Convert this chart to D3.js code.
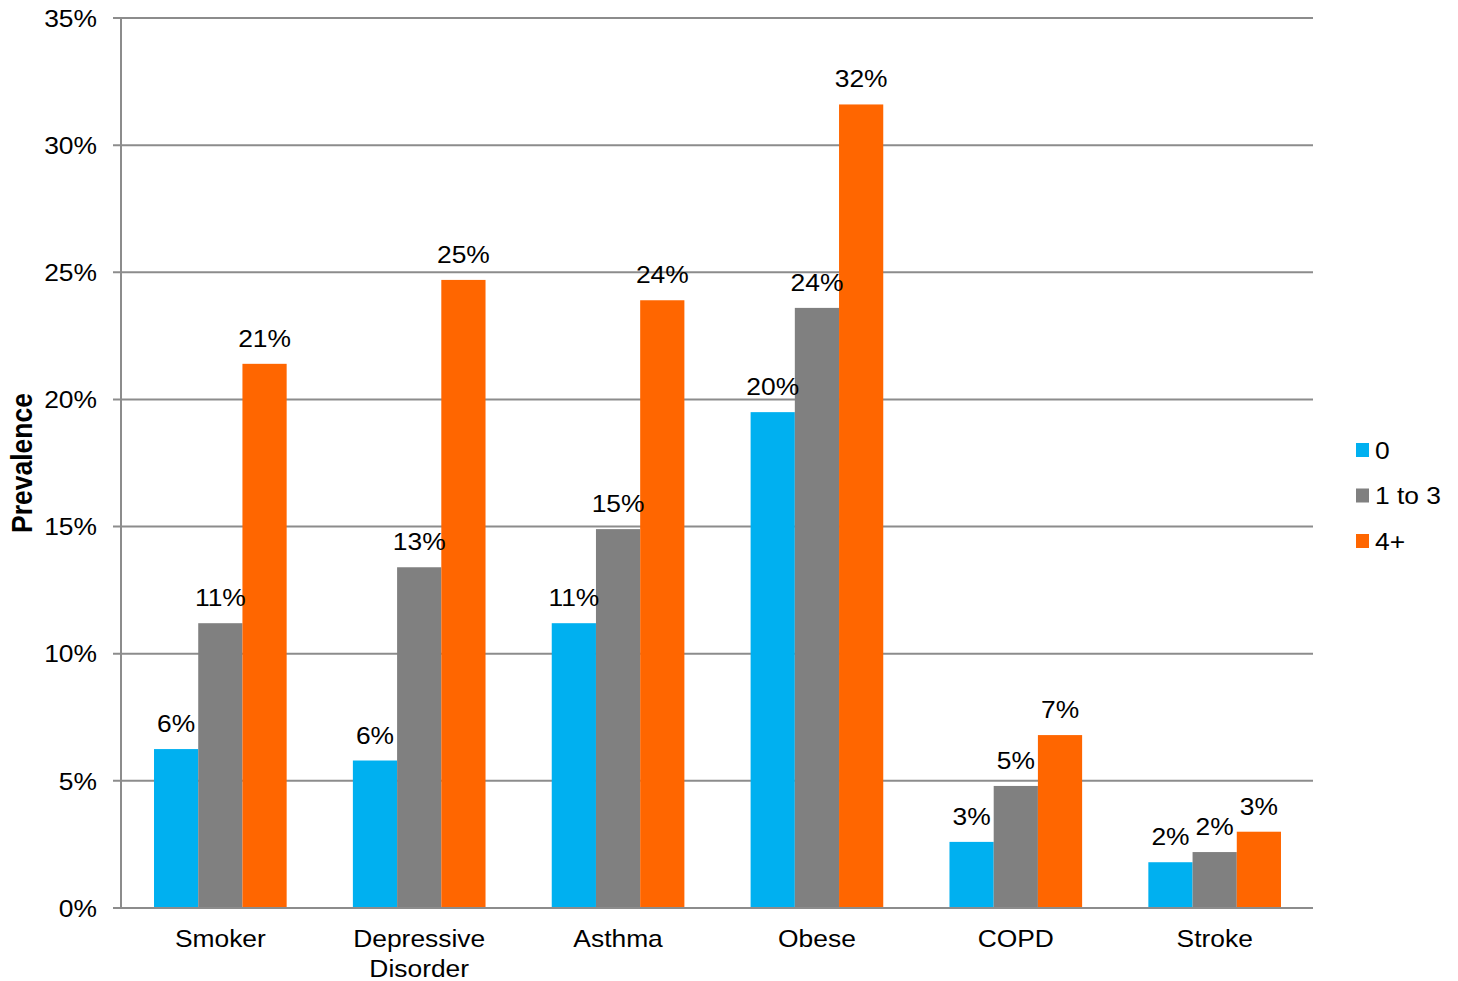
<!DOCTYPE html>
<html>
<head>
<meta charset="utf-8">
<script src="https://cdn.jsdelivr.net/npm/d3@7"></script>
<style>
  body { margin: 0; background: #fff; }
  text { font-family: "Liberation Sans", Arial, sans-serif; fill: #000; }
</style>
</head>
<body>
<div id="chart"></div>
<script>
// chart data
const categories = ["Smoker", "Depressive Disorder", "Asthma", "Obese", "COPD", "Stroke"];
const seriesNames = ["0", "1 to 3", "4+"];
const series0 = [6.25, 5.8, 11.2, 19.5, 2.6, 1.8];
const series1to3 = [11.2, 13.4, 14.9, 23.6, 4.8, 2.2];
const series4plus = [21.4, 24.7, 23.9, 31.6, 6.8, 3.0];
const yTicks = [0, 5, 10, 15, 20, 25, 30, 35];
const colors = ["#00B0F0", "#808080", "#FF6600"];

const width = 1458, height = 981;
const margin = { top: 18, right: 145, bottom: 73, left: 120 };
const fontSize = 24;
const stretch = 1.1; // the original text is a bit wider than tall

const svg = d3.select("#chart").append("svg")
    .attr("width", width)
    .attr("height", height);

// place a text at x,y with the horizontal stretch
function placeText(sel, fx, fy) {
    sel.attr("transform", (d, i) => `translate(${fx(d, i)},${fy(d, i)}) scale(${stretch},1)`);
}

const x = d3.scaleBand()
    .domain(categories)
    .range([margin.left + 1, width - margin.right + 1])
    .paddingInner(0.333)
    .paddingOuter(0.166);

const xSub = d3.scaleBand()
    .domain(seriesNames)
    .range([0, x.bandwidth()]);

const y = d3.scaleLinear()
    .domain([0, 35])
    .range([height - margin.bottom, margin.top]);

// gridlines
svg.append("g")
    .selectAll("line")
    .data(yTicks)
    .join("line")
    .attr("x1", margin.left - 7)
    .attr("x2", width - margin.right)
    .attr("y1", d => y(d))
    .attr("y2", d => y(d))
    .attr("stroke", "#8c8c8c")
    .attr("stroke-width", 2);

// y axis line
svg.append("line")
    .attr("x1", margin.left + 1).attr("x2", margin.left + 1)
    .attr("y1", y(35)).attr("y2", y(0))
    .attr("stroke", "#8c8c8c")
    .attr("stroke-width", 2);

// y tick labels
svg.append("g")
    .selectAll("text")
    .data(yTicks)
    .join("text")
    .call(placeText, () => margin.left - 23, d => y(d))
    .attr("dy", "0.36em")
    .attr("text-anchor", "end")
    .attr("font-size", fontSize)
    .text(d => d + "%");

// y title
svg.append("text")
    .attr("transform", `translate(32, ${(y(0) + y(35)) / 2}) scale(${stretch},1) rotate(-90)`)
    .attr("text-anchor", "middle")
    .attr("font-size", 26.5)
    .attr("font-weight", "bold")
    .text("Prevalence");

const allSeries = [series0, series1to3, series4plus];
const rows = categories.map((c, i) => ({
    cat: c,
    vals: seriesNames.map((s, j) => ({ key: s, value: allSeries[j][i], color: colors[j] }))
}));

const groups = svg.append("g")
    .selectAll("g")
    .data(rows)
    .join("g")
    .attr("transform", d => `translate(${x(d.cat)},0)`);

groups.selectAll("rect")
    .data(d => d.vals)
    .join("rect")
    .attr("x", d => xSub(d.key))
    .attr("width", xSub.bandwidth())
    .attr("y", d => y(d.value))
    .attr("height", d => y(0) - y(d.value))
    .attr("fill", d => d.color);

groups.selectAll("text.lbl")
    .data(d => d.vals)
    .join("text")
    .attr("class", "lbl")
    .call(placeText, d => xSub(d.key) + xSub.bandwidth() / 2, d => y(d.value) - 17)
    .attr("text-anchor", "middle")
    .attr("font-size", fontSize)
    .text(d => Math.round(d.value) + "%");

// redraw baseline on top of bars
svg.append("line")
    .attr("x1", margin.left - 7).attr("x2", width - margin.right)
    .attr("y1", y(0)).attr("y2", y(0))
    .attr("stroke", "#8c8c8c")
    .attr("stroke-width", 2);

// category labels
svg.append("g")
    .selectAll("text")
    .data(categories)
    .join("text")
    .call(placeText, d => x(d) + x.bandwidth() / 2, () => height - margin.bottom + 39)
    .attr("text-anchor", "middle")
    .attr("font-size", fontSize)
    .each(function(d) {
        const words = d === "Depressive Disorder" ? ["Depressive", "Disorder"] : [d];
        d3.select(this).selectAll("tspan")
            .data(words)
            .join("tspan")
            .attr("x", 0)
            .attr("dy", (w, i) => i === 0 ? 0 : 30)
            .text(w => w);
    });

// legend
const legend = svg.append("g")
    .attr("transform", "translate(1356, 443)");

const items = legend.selectAll("g")
    .data(seriesNames)
    .join("g")
    .attr("transform", (d, i) => `translate(0, ${i * 45.5})`);

items.append("rect")
    .attr("width", 13)
    .attr("height", 14)
    .attr("fill", (d, i) => colors[i]);

items.append("text")
    .call(placeText, () => 19, () => 7)
    .attr("dy", "0.36em")
    .attr("font-size", fontSize)
    .text(d => d);
</script>
</body>
</html>
